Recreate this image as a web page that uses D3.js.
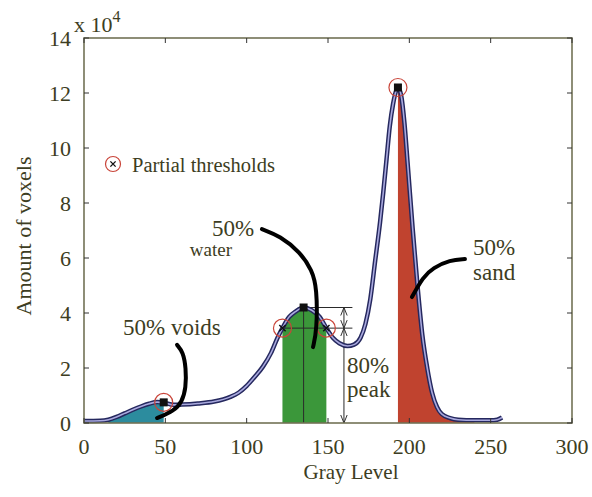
<!DOCTYPE html>
<html>
<head>
<meta charset="utf-8">
<script src="https://cdn.jsdelivr.net/npm/d3@7"></script>
<style>
  body { margin: 0; background: #fff; }
  svg text { font-family: "Liberation Serif", "Times New Roman", serif; fill: #3d3d22; }
</style>
</head>
<body>
<svg id="chart" width="592" height="497"></svg>
<script>
// histogram of gray levels (amount of voxels, in units of 10^4)
const grayLevel = [0, 10, 15, 20, 25, 30, 35, 40, 45, 49, 55, 60, 70, 80, 90, 95, 100, 105, 110, 115, 119, 122, 126, 130, 135, 140, 145, 149, 153, 157, 162, 166, 170, 173, 176, 179, 182, 184, 186, 188, 190, 192, 193, 195, 197, 199, 202, 205, 208, 211, 214, 217, 220, 225, 230, 240, 250, 254, 257];
const voxels = [0.07, 0.08, 0.12, 0.22, 0.35, 0.48, 0.6, 0.7, 0.76, 0.74, 0.66, 0.67, 0.71, 0.78, 0.95, 1.1, 1.35, 1.68, 2.05, 2.55, 3.1, 3.45, 3.85, 4.05, 4.2, 4.1, 3.85, 3.45, 3.1, 2.9, 2.8, 2.85, 3.1, 3.6, 4.5, 5.9, 7.3, 8.4, 9.6, 10.8, 11.6, 12.1, 12.2, 11.9, 10.9, 9.4, 7.1, 5.0, 3.2, 2.0, 1.1, 0.58, 0.32, 0.18, 0.12, 0.1, 0.1, 0.12, 0.2];

const xTicks = [0, 50, 100, 150, 200, 250, 300];
const yTicks = [0, 2, 4, 6, 8, 10, 12, 14];

// partial thresholds (circled) and peaks (squares)
const thresholdX = [49, 122, 149, 193];
const thresholdY = [0.75, 3.45, 3.45, 12.2];
const peakX = [49, 135, 193];
const peakY = [0.75, 4.2, 12.2];

// filled ranges: voids, water, sand
const fillFrom = [14, 122, 193];
const fillTo = [49, 149, 240];
const fillColor = ["#2c8c9e", "#3b973a", "#c0432f"];

// hand drawn leaders (gray level, voxels)
const voidsLeader = [[57.2, 2.84], [60.9, 2.58], [62.7, 2.0], [62.7, 1.27], [60.2, 0.76], [55.3, 0.44], [44.9, 0.18]];
const waterLeader = [[109.4, 7.05], [120.5, 6.8], [132.8, 6.22], [140.2, 5.56], [143.2, 4.91], [143.2, 3.38], [140.8, 2.76]];
const sandLeader = [[234.2, 5.96], [225, 5.93], [214.5, 5.64], [208.4, 5.31], [201.6, 4.58]];

const margin = {left: 84, top: 38, right: 20, bottom: 74};
const W = 592 - margin.left - margin.right;
const H = 497 - margin.top - margin.bottom;

const svg = d3.select("#chart");
const g = svg.append("g").attr("transform", `translate(${margin.left},${margin.top})`);

const x = d3.scaleLinear().domain([0, 300]).range([0, W]);
const y = d3.scaleLinear().domain([0, 14]).range([H, 0]);

const data = grayLevel.map((d, i) => ({x: d, y: voxels[i]}));

// fills under the curve
fillFrom.forEach((f, i) => {
  const part = data.filter(d => d.x >= f && d.x <= fillTo[i]);
  const area = d3.area().x(d => x(d.x)).y0(y(0)).y1(d => y(d.y)).curve(d3.curveMonotoneX);
  g.append("path").attr("d", area(part)).attr("fill", fillColor[i]);
});

// dimension lines for the water peak
const dimX = 159.8, dimEnd = 165;
const ink = "#2a2a2a";
svg.append("defs").append("marker")
  .attr("id", "arr").attr("viewBox", "0 0 10 10").attr("refX", 10).attr("refY", 5)
  .attr("markerWidth", 8).attr("markerHeight", 8).attr("orient", "auto-start-reverse")
  .append("path").attr("d", "M0,1 L10,5 L0,9").attr("fill", "none").attr("stroke", ink).attr("stroke-width", 1.2);

g.append("line").attr("x1", x(peakX[1])).attr("x2", x(peakX[1]))
  .attr("y1", y(peakY[1])).attr("y2", y(0)).attr("stroke", ink).attr("stroke-width", 1);
g.append("line").attr("x1", x(peakX[1])).attr("x2", x(dimEnd))
  .attr("y1", y(peakY[1])).attr("y2", y(peakY[1])).attr("stroke", ink).attr("stroke-width", 1);
g.append("line").attr("x1", x(thresholdX[1])).attr("x2", x(dimEnd))
  .attr("y1", y(thresholdY[1])).attr("y2", y(thresholdY[1])).attr("stroke", ink).attr("stroke-width", 1);
g.append("line").attr("x1", x(dimX)).attr("x2", x(dimX))
  .attr("y1", y(peakY[1])).attr("y2", y(thresholdY[1])).attr("stroke", ink).attr("stroke-width", 1)
  .attr("marker-start", "url(#arr)").attr("marker-end", "url(#arr)");
g.append("line").attr("x1", x(dimX)).attr("x2", x(dimX))
  .attr("y1", y(thresholdY[1])).attr("y2", y(0)).attr("stroke", ink).attr("stroke-width", 1)
  .attr("marker-start", "url(#arr)").attr("marker-end", "url(#arr)");

// the histogram curve: dark edge with light core
const line = d3.line().x(d => x(d.x)).y(d => y(d.y)).curve(d3.curveMonotoneX);
g.append("path").attr("d", line(data)).attr("fill", "none").attr("stroke", "#25285e").attr("stroke-width", 4.5);
g.append("path").attr("d", line(data)).attr("fill", "none").attr("stroke", "#a9a9de").attr("stroke-width", 1.6);

// peak squares
peakX.forEach((p, i) => {
  g.append("rect").attr("x", x(p) - 4).attr("y", y(peakY[i]) - 4)
    .attr("width", 8).attr("height", 8).attr("fill", "#111");
});

// threshold circles with x
function thresholdMark(sel, cx, cy, r) {
  sel.append("circle").attr("cx", cx).attr("cy", cy).attr("r", r)
    .attr("fill", "none").attr("stroke", "#c9453a").attr("stroke-width", 1.2);
  const s = r * 0.35;
  sel.append("path").attr("d", `M${cx - s},${cy - s}L${cx + s},${cy + s}M${cx - s},${cy + s}L${cx + s},${cy - s}`)
    .attr("stroke", "#111").attr("stroke-width", 1.4);
}
thresholdX.forEach((t, i) => thresholdMark(g, x(t), y(thresholdY[i]), 9));

// leaders
const leader = d3.line().x(d => x(d[0])).y(d => y(d[1])).curve(d3.curveBasis);
[voidsLeader, waterLeader, sandLeader].forEach(l => {
  g.append("path").attr("d", leader(l)).attr("fill", "none").attr("stroke", "#000")
    .attr("stroke-width", 4).attr("stroke-linecap", "round");
});

// frame and ticks
const axisCol = "#727256";
g.append("rect").attr("width", W).attr("height", H).attr("fill", "none")
  .attr("stroke", axisCol).attr("stroke-width", 1.6);
xTicks.forEach(t => {
  g.append("line").attr("x1", x(t)).attr("x2", x(t)).attr("y1", H).attr("y2", H - 5).attr("stroke", "#333");
  g.append("line").attr("x1", x(t)).attr("x2", x(t)).attr("y1", 0).attr("y2", 5).attr("stroke", "#333");
  g.append("text").attr("x", x(t)).attr("y", H + 31).attr("text-anchor", "middle")
    .attr("font-size", 22).text(t);
});
yTicks.forEach(t => {
  g.append("line").attr("x1", 0).attr("x2", 5).attr("y1", y(t)).attr("y2", y(t)).attr("stroke", "#333");
  g.append("line").attr("x1", W).attr("x2", W - 5).attr("y1", y(t)).attr("y2", y(t)).attr("stroke", "#333");
  g.append("text").attr("x", -13).attr("y", y(t) + 8).attr("text-anchor", "end")
    .attr("font-size", 22).text(t);
});

// axis titles
svg.append("text").attr("x", 351).attr("y", 479).attr("text-anchor", "middle")
  .attr("font-size", 21).text("Gray Level");
svg.append("text").attr("transform", "translate(31,236) rotate(-90)").attr("text-anchor", "middle")
  .attr("font-size", 22).text("Amount of voxels");
const exp = svg.append("text").attr("x", 74).attr("y", 32).attr("font-size", 22);
exp.append("tspan").text("x 10");
exp.append("tspan").attr("dy", -10).attr("font-size", 16).text("4");

// legend
thresholdMark(svg, 113, 164, 7.5);
svg.append("text").attr("x", 132).attr("y", 172).attr("font-size", 20.5).text("Partial thresholds");

// annotation labels
svg.append("text").attr("x", 123).attr("y", 335).attr("font-size", 23).text("50% voids");
svg.append("text").attr("x", 212).attr("y", 236).attr("font-size", 23).text("50%");
svg.append("text").attr("x", 232).attr("y", 256).attr("text-anchor", "end").attr("font-size", 19).text("water");
svg.append("text").attr("x", 473).attr("y", 255).attr("font-size", 23).text("50%");
svg.append("text").attr("x", 473).attr("y", 280).attr("font-size", 23).text("sand");
svg.append("text").attr("x", 347).attr("y", 373).attr("font-size", 23).text("80%");
svg.append("text").attr("x", 347).attr("y", 397).attr("font-size", 23).text("peak");
</script>
</body>
</html>
